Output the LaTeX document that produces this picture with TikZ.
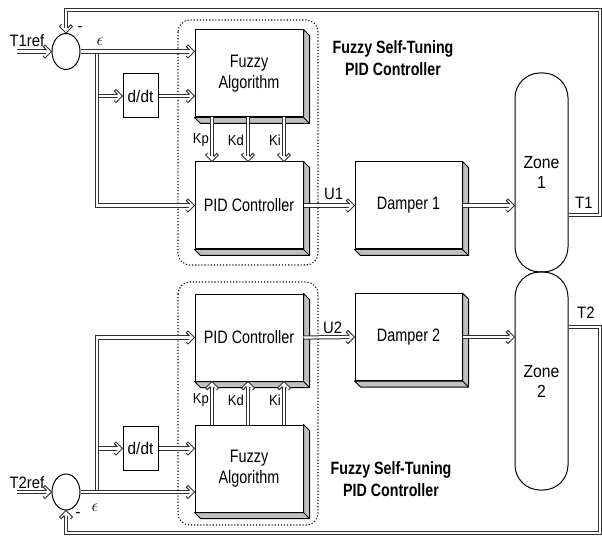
\documentclass[tikz,border=0pt]{standalone}
\usepackage{fontspec}
\setmainfont{Liberation Sans}
\newfontfamily\boxfont[FakeStretch=0.8]{Liberation Sans}
\newfontfamily\lblfont[FakeStretch=0.9]{Liberation Sans}
\newfontfamily\titlefont[FakeStretch=0.8]{Liberation Sans Bold}
\usetikzlibrary{arrows.meta,shapes.geometric,calc,decorations.markings}
\definecolor{shadowgray}{RGB}{192,192,192}
\definecolor{linegray}{RGB}{50,50,50}
\newcommand\myChevron{%
  \fill[white] (0,0) -- (-6.5,6.5) -- (-8.2,4.8) -- (-5,1.6) -- (-5,-1.6) -- (-8.2,-4.8) -- (-6.5,-6.5) -- cycle;
  \draw[linegray, line width=1pt, line join=miter] (-5,-1.6) -- (-8.2,-4.8) -- (-6.5,-6.5) -- (0,0) -- (-6.5,6.5) -- (-8.2,4.8) -- (-5,1.6);}
\begin{document}
\begin{tikzpicture}[x=1pt,y=-1pt,
  every node/.style={inner sep=0pt},
  box3d/.style={draw, fill=white, line width=1pt, align=center, minimum height=87pt, font=\boxfont\fontsize{18}{21}\selectfont},
  ddbox/.style={draw, fill=white, line width=1pt, minimum width=35pt, minimum height=44pt, font=\lblfont\fontsize{17}{20}\selectfont},
  dline/.style={draw=linegray, line width=1pt, double=white, double distance=2.2pt},
  conn/.style={dline, shorten >=5pt, postaction={decorate, decoration={markings, mark=at position 1 with {\myChevron}}}},
  sumnode/.style={draw, ellipse, minimum width=28pt, minimum height=36pt, line width=1pt, fill=white},
  zonebox/.style={draw, rounded corners=25pt, minimum width=53pt, line width=1pt, align=center, font=\lblfont\fontsize{17.5}{20}\selectfont},
  groupbox/.style={draw, dotted, line width=1.1pt, rounded corners=12pt},
  lbl/.style={font=\lblfont\fontsize{16.5}{18}\selectfont},
  klbl/.style={font=\lblfont\fontsize{14.5}{16}\selectfont},
  titlelbl/.style={font=\titlefont\fontsize{17.8}{22}\selectfont, align=center}
]
\useasboundingbox (0,0) rectangle (602,537);

% dotted groups
\draw[groupbox] (178,20) rectangle (318,265);
\draw[groupbox] (178,282) rectangle (318,525);

% upper loop nodes
\node[sumnode] (c1) at (66,51.5) {};
\node[ddbox] (d1) at (140.5,96) {d/dt};
\node[box3d, minimum width=108pt] (fa1) at (249,73.5) {Fuzzy\\Algorithm};
\node[box3d, minimum width=108pt] (pid1) at (249,205.5) {PID Controller};
\node[box3d, minimum width=107pt] (dam1) at (408.5,205.5) {Damper 1};
\node[zonebox, minimum height=199pt] (z1) at (541.5,172.5) {Zone\\1};

% lower loop nodes
\node[sumnode] (c2) at (66,492) {};
\node[ddbox] (d2) at (140.5,448.5) {d/dt};
\node[box3d, minimum width=108pt] (pid2) at (249,337.5) {PID Controller};
\node[box3d, minimum width=108pt] (fa2) at (249,468.5) {Fuzzy\\Algorithm};
\node[box3d, minimum width=107pt] (dam2) at (408.5,337) {Damper 2};
\node[zonebox, minimum height=218pt] (z2) at (541.5,381) {Zone\\2};

% 3D shadows
\foreach \n in {fa1,pid1,dam1,fa2,pid2,dam2}{
  \filldraw[fill=shadowgray, line width=1pt, line join=round] (\n.north east) -- ++(6,6) -- ($(\n.south east)+(6,6)$) -- ($(\n.south west)+(6,6)$) -- (\n.south west) -- (\n.south east) -- cycle;
  \draw[line width=1pt] (\n.south east) -- ++(6,6);
}

% titles
\node[titlelbl] (tt1) at (393,58) {Fuzzy Self-Tuning\\PID Controller};
\node[titlelbl] (tt2) at (391,479) {Fuzzy Self-Tuning\\PID Controller};

% ---------- upper connectors
\coordinate (in1) at (17,51.5);
\coordinate (br1) at (97,51.5);
\draw[conn] (in1) -- (c1.west);
\draw[conn] (br1 |- d1.west) -- (d1.west);
\draw[conn] (br1) -- (br1 |- pid1.west) -- (pid1.west);
\draw[conn] (c1.east) -- (c1.east -| fa1.west);
\draw[conn] (d1.east) -- (d1.east -| fa1.west);
\foreach \dx in {-37,-1,35}{
  \draw[conn] ([xshift=\dx pt]fa1.south) -- ([xshift=\dx pt]pid1.north);
}
\draw[conn] (pid1.east) -- (dam1.west);
\draw[conn] (dam1.east) -- (dam1.east -| z1.west);
\coordinate (t1r) at (600,215);
\coordinate (t1top) at (600,10);
\draw[conn] (z1.east |- t1r) -- (t1r) -- (t1top) -- (c1.north |- t1top) -- (c1.north);

% ---------- lower connectors
\coordinate (in2) at (17,492);
\coordinate (br2) at (97,492);
\draw[conn] (in2) -- (c2.west);
\draw[conn] (br2 |- d2.west) -- (d2.west);
\draw[conn] (br2) -- (br2 |- pid2.west) -- (pid2.west);
\draw[conn] (c2.east) -- (c2.east -| fa2.west);
\draw[conn] (d2.east) -- (d2.east -| fa2.west);
\foreach \dx in {-37,-1,35}{
  \draw[conn] ([xshift=\dx pt]fa2.north) -- ([xshift=\dx pt]pid2.south);
}
\draw[conn] (pid2.east) -- (dam2.west);
\draw[conn] (dam2.east) -- (dam2.east -| z2.west);
\coordinate (t2r) at (600,327);
\coordinate (t2bot) at (600,533);
\draw[conn] (z2.east |- t2r) -- (t2r) -- (t2bot) -- (c2.south |- t2bot) -- (c2.south);

% ---------- labels
\node[lbl] (lt1ref) at (27,41) {T1ref};
\node[lbl] (lm1) at (80,29) {-};
\node[lbl] (le1) at (100,42) {$\epsilon$};
\node[klbl, anchor=east] (lkp1) at (209,140) {Kp};
\node[klbl, anchor=east] (lkd1) at (244,140) {Kd};
\node[klbl, anchor=east] (lki1) at (281,140) {Ki};
\node[lbl, anchor=west] (lu1) at (324,194) {U1};
\node[lbl, anchor=west] (lt1) at (575,203) {T1};

\node[lbl] (lt2ref) at (27,483) {T2ref};
\node[lbl] (lm2) at (78,515) {-};
\node[lbl] (le2) at (95,508) {$\epsilon$};
\node[klbl, anchor=east] (lkp2) at (209,400) {Kp};
\node[klbl, anchor=east] (lkd2) at (244,400) {Kd};
\node[klbl, anchor=east] (lki2) at (281,400) {Ki};
\node[lbl, anchor=west] (lu2) at (323,328) {U2};
\node[lbl, anchor=west] (lt2) at (577,313) {T2};
\end{tikzpicture}
\end{document}
